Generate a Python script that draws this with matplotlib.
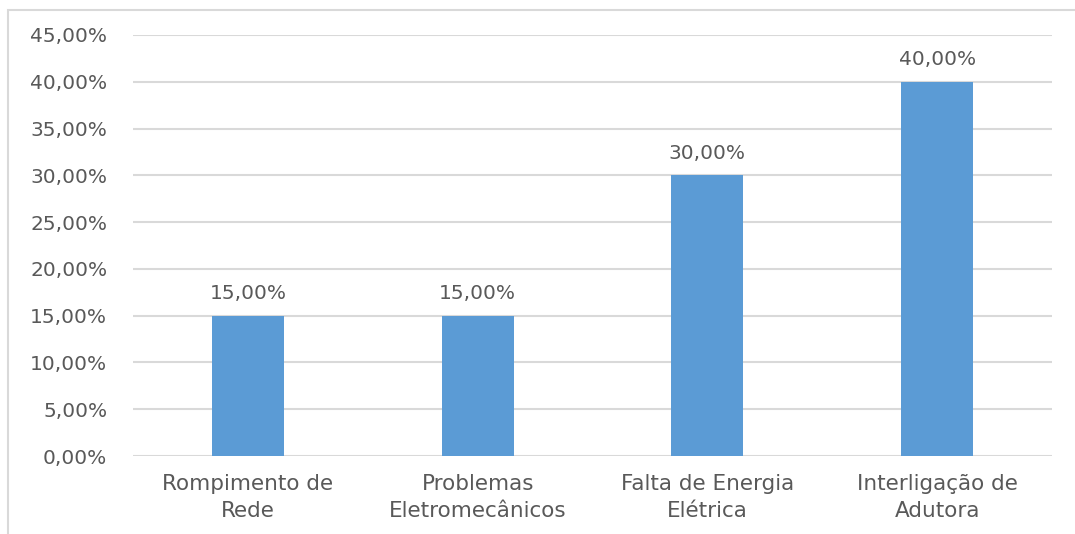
import matplotlib
matplotlib.use("Agg")
import matplotlib.pyplot as plt
from matplotlib.patches import Rectangle

categories = ["Rompimento de\nRede", "Problemas\nEletromecânicos", "Falta de Energia\nElétrica", "Interligação de\nAdutora"]
values = [15.0, 15.0, 30.0, 40.0]
yticks = [0, 5, 10, 15, 20, 25, 30, 35, 40, 45]

W, H = 1075, 534
fig = plt.figure(figsize=(W / 100, H / 100), dpi=100)
fig.patch.set_facecolor("white")

# chart border (cut off at right and bottom)
fig.patches.append(Rectangle((8 / W, -0.1), 1.2, (H - 10) / H + 0.1, transform=fig.transFigure,
                             fill=False, edgecolor="#D9D9D9", linewidth=1.5, clip_on=False))

ax = fig.add_axes([133 / W, (H - 456) / H, (1052 - 133) / W, (456 - 35) / H])
text_color = "#595959"
fs = 14.5

x = range(len(categories))
bars = ax.bar(x, values, width=0.313, color="#5B9BD5", zorder=3)
ax.set_xlim(-0.5, len(categories) - 0.5)
ax.set_ylim(0, 45)
ax.set_yticks(yticks)
ax.set_yticklabels([f"{v:.2f}%".replace(".", ",") for v in yticks], fontsize=fs, color=text_color)
ax.set_xticks(list(x))
ax.set_xticklabels(categories, fontsize=15.5, color=text_color, linespacing=1.42)
ax.tick_params(axis="both", length=0)
ax.tick_params(axis="y", pad=18.5)
ax.tick_params(axis="x", pad=13)
ax.grid(axis="y", color="#D9D9D9", linewidth=1.5, zorder=0)
ax.set_axisbelow(True)
for s in ax.spines.values():
    s.set_visible(False)

for b, v in zip(bars, values):
    ax.annotate(f"{v:.2f}%".replace(".", ","), (b.get_x() + b.get_width() / 2, v),
                xytext=(0, 9), textcoords="offset points", ha="center", va="bottom",
                fontsize=fs, color=text_color)

fig.savefig("out.png", dpi=100, facecolor="white")
